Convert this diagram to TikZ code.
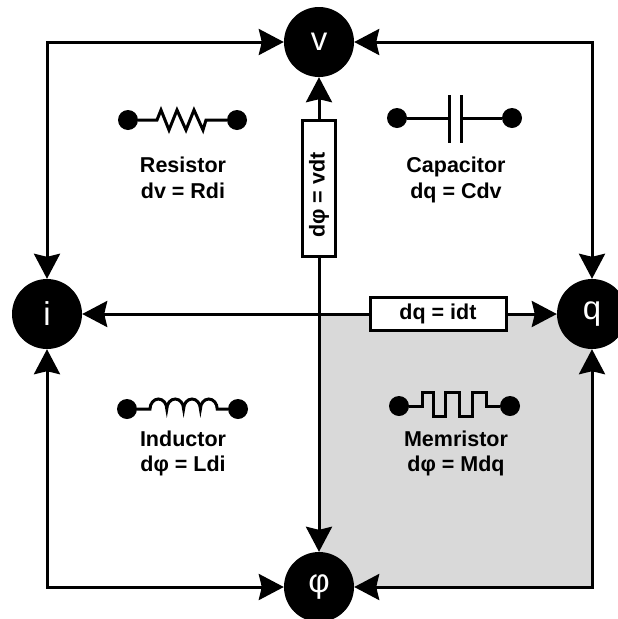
\documentclass[tikz,border=0pt]{standalone}
\usepackage{fontspec}
\setmainfont{Liberation Sans}
\usetikzlibrary{arrows.meta}
\definecolor{greyfill}{HTML}{D9D9D9}
\tikzset{
  var/.style={circle,fill=black,text=white,minimum size=70pt,inner sep=0pt,font=\fontsize{33}{36}\selectfont},
  wire/.style={line width=3pt,draw=black},
  link/.style={wire,-{Stealth[length=25pt,width=26pt,inset=3pt]}},
  linkboth/.style={wire,{Stealth[length=25pt,width=26pt,inset=3pt]}-{Stealth[length=25pt,width=26pt,inset=3pt]}},
  relbox/.style={draw=black,line width=3pt,fill=white,inner sep=0pt,font=\fontsize{21.5}{25}\bfseries\selectfont},
  term/.style={circle,fill=black,minimum size=20pt,inner sep=0pt},
  comp/.style={line width=3pt,draw=black,line join=miter},
  caption/.style={align=center,inner sep=0pt,font=\fontsize{21.5}{25.5}\bfseries\selectfont}
}
\begin{document}
\begin{tikzpicture}[x=1pt,y=-1pt]
\clip (0,0) rectangle (618,619);
\fill[white] (0,0) rectangle (618,619);
\coordinate (vc) at (319,42);
\coordinate (ic) at (47,314);
\coordinate (qc) at (592,314);
\coordinate (pc) at (319,587);
\fill[greyfill] (vc |- ic) rectangle (qc |- pc);
\node[var] (v) at (vc) {v};
\node[var] (i) at (ic) {i};
\node[var] (q) at (qc) {q};
\node[var] (p) at (pc) {φ};
\node[relbox,minimum width=136pt,minimum height=33pt,rotate=90] (vdt) at (319,188) {dφ = vdt\hspace*{14pt}};
\node[relbox,minimum width=136pt,minimum height=33pt] (idt) at (438,314) {dq = idt};
\draw[linkboth] (v.west) -| (i.north);
\draw[linkboth] (v.east) -| (q.north);
\draw[linkboth] (p.west) -| (i.south);
\draw[linkboth] (p.east) -| (q.south);
\draw[link] (vdt) -- (v);
\draw[link] (vdt) -- (p);
\draw[link] (idt) -- (q);
\draw[link] (idt) -- (i);
% resistor
\node[term] (r1) at (128,120) {};
\node[term] (r2) at (237,120) {};
\draw[comp] (r1) -- (157,120) -- (161,110) -- (169,130) -- (177,110) -- (186,130) -- (194,110) -- (203,130) -- (206,120) -- (r2);
\node[caption] (rt) at (183,178) {Resistor\\dv = Rdi};
% capacitor
\node[term] (c1) at (397,118) {};
\node[term] (c2) at (512,118) {};
\draw[comp] (c1) -- (449,118);
\draw[comp] (461,118) -- (c2);
\draw[comp] (449,95) -- (449,143);
\draw[comp] (461,95) -- (461,143);
\node[caption] (ct) at (456,180) {Capacitor\\dq = Cdv};
% inductor
\node[term] (l1) at (127,409) {};
\node[term] (l2) at (238,409) {};
\draw[comp] (l1) -- (150,409) arc[start angle=180,end angle=0,x radius=8.4pt,y radius=10pt] arc[start angle=180,end angle=0,x radius=8.4pt,y radius=10pt] arc[start angle=180,end angle=0,x radius=8.4pt,y radius=10pt] arc[start angle=180,end angle=0,x radius=8.4pt,y radius=10pt] -- (l2);
\node[caption] (lt) at (183,453.5) {Inductor\\dφ = Ldi};
% memristor
\node[term] (m1) at (399,406) {};
\node[term] (m2) at (510,406) {};
\draw[comp] (m1) -- (422,406) -- (422,392) -- (433,392) -- (433,416) -- (445,416) -- (445,392) -- (459,392) -- (459,416) -- (472,416) -- (472,392) -- (486,392) -- (486,406) -- (m2);
\node[caption] (mt) at (456,453.5) {Memristor\\dφ = Mdq};
\end{tikzpicture}
\end{document}
